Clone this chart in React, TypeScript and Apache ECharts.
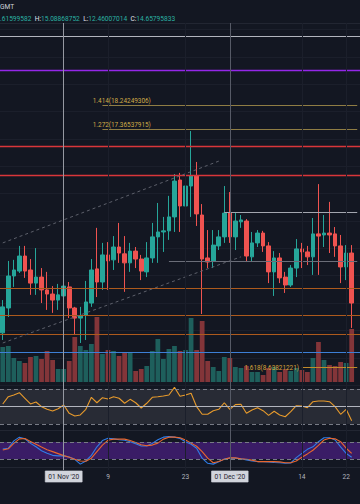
import React, { useEffect, useRef } from "react";
import * as echarts from "echarts";

// ---------- categories (daily, 21 Oct 2020 .. 24 Dec 2020) ----------
const MONTHS = ["Jan", "Feb", "Mar", "Apr", "May", "Jun", "Jul", "Aug", "Sep", "Oct", "Nov", "Dec"];
const dates: string[] = [];
for (let i = 0; i < 65; i++) {
  const d = new Date(Date.UTC(2020, 9, 21) + i * 86400000);
  dates.push(`${MONTHS[d.getUTCMonth()]} ${d.getUTCDate()}`);
}

// ---------- candles [open, close, low, high] ----------
const candles: number[][] = [
  [9.91, 10.86, 9.65, 11.11], [10.82, 11.99, 10.49, 12.54], [11.99, 12.21, 11.59, 12.58],
  [12.17, 12.72, 12.1, 13.09], [12.72, 12.17, 11.92, 13.09], [12.21, 11.73, 11.3, 12.61],
  [11.73, 11.95, 11.3, 13.01], [11.95, 11.48, 11.0, 12.28], [11.48, 11.33, 10.75, 12.14],
  [11.33, 11.11, 10.64, 11.62], [11.11, 11.3, 10.75, 11.7],
  [11.26, 11.62, 11.22, 11.66], [11.59, 10.82, 10.45, 11.77], [10.82, 10.45, 9.83, 10.86],
  [10.45, 10.53, 9.54, 10.86], [10.56, 11.04, 9.65, 11.81], [11.0, 12.21, 10.86, 12.61],
  [12.25, 11.77, 11.22, 13.75], [11.77, 12.76, 11.48, 13.2], [12.76, 12.54, 11.48, 13.23],
  [12.58, 13.05, 12.21, 13.45], [13.05, 12.83, 12.47, 13.93], [12.8, 12.47, 11.41, 13.45],
  [12.47, 12.9, 12.14, 13.2], [12.9, 12.61, 12.28, 13.05], [12.61, 12.17, 11.84, 12.76],
  [12.14, 12.65, 11.95, 13.23], [12.65, 13.42, 12.47, 13.93], [13.42, 13.6, 12.47, 14.66],
  [13.6, 13.64, 12.87, 14.15], [13.64, 14.15, 13.31, 14.92], [14.15, 15.46, 13.6, 15.72],
  [15.5, 14.55, 13.6, 15.76], [14.55, 15.28, 14.15, 15.98], [15.28, 15.65, 14.15, 17.29],
  [15.65, 14.26, 13.82, 16.16], [14.22, 12.61, 10.6, 14.62], [12.65, 12.5, 12.28, 13.67],
  [12.54, 13.12, 12.28, 13.67], [13.09, 13.42, 12.94, 13.67], [13.42, 14.29, 13.2, 15.28],
  [14.29, 13.42, 13.2, 15.06], [13.42, 14.0, 12.94, 14.29], [13.97, 14.04, 13.75, 14.22],
  [14.0, 12.72, 12.5, 14.07], [12.69, 13.2, 12.5, 13.6], [13.2, 13.56, 13.05, 13.67],
  [13.56, 13.09, 12.87, 13.64], [13.09, 12.14, 11.73, 13.23], [12.14, 12.65, 11.26, 12.9],
  [12.65, 11.92, 11.73, 12.83], [11.95, 11.66, 11.37, 12.14], [11.66, 12.28, 11.59, 12.39],
  [12.28, 12.98, 11.95, 13.34], [12.98, 12.87, 12.28, 13.2], [12.87, 12.69, 12.39, 13.09],
  [12.69, 13.53, 12.03, 14.11], [13.53, 13.45, 12.03, 15.35], [13.49, 13.56, 13.05, 14.22],
  [13.56, 13.49, 12.83, 14.7], [13.53, 13.09, 12.69, 13.78], [13.09, 12.32, 11.73, 13.49],
  [12.32, 12.83, 11.84, 13.12], [12.83, 11.0, 10.09, 13.12],
];

// ---------- volume (K) ----------
const volumes = [
  350, 360, 240, 210, 190, 250, 260, 230, 310, 220, 130,
  130, 210, 450, 360, 320, 380, 650, 280, 320, 310, 260, 300, 300, 110, 130, 160, 310, 430, 230,
  330, 360, 310, 320, 640, 320, 610, 210, 150, 110, 250,
  240, 150, 140, 160, 100, 100, 70, 140, 150, 100, 130, 110, 140, 120, 100, 240, 400, 220, 170,
  160, 200, 190, 530,
];

// ---------- RSI ----------
const rsi = [
  52.9, 61.2, 63.1, 65.8, 59.4, 52.9, 55.1, 49.8, 46.8, 44.9, 47.5,
  51.7, 42.2, 39.1, 40.3, 46.8, 60.5, 54.3, 60.1, 58.6, 61.2, 59.4, 53.7, 58.2, 54.3, 48.3,
  53.7, 60.5, 61.2, 62.0, 63.1, 71.9, 61.7, 63.1, 65.1, 49.8, 41.1, 41.1, 45.2, 46.8, 54.3,
  46.8, 52.1, 52.5, 42.2, 46.0, 48.6, 45.2, 39.9, 44.5, 40.3, 38.3, 44.1, 50.9, 50.6, 48.6,
  55.5, 56.3, 56.3, 55.5, 49.8, 41.1, 46.8, 33.8,
];

// ---------- Stochastic RSI ----------
const stochK = [
  55, 58, 84, 97, 91, 75, 63, 49, 40, 33, 31,
  31, 27, 19, 2, 13, 33, 63, 85, 93, 91, 88, 86, 81, 74, 66, 66, 75, 88, 97, 99,
  97, 92, 81, 72, 58, 23, 5, 2, 10, 20,
  23, 23, 21, 17, 13, 11, 11, 10, 8, 7, 5, 6, 25, 40, 54, 63, 81, 95, 95, 87, 63, 40, 26,
];
const stochD = [
  52, 56, 75, 91, 92, 82, 72, 62, 53, 46, 39,
  32, 26, 19, 13, 12, 23, 46, 69, 86, 90, 90, 90, 85, 78, 70, 67, 69, 76, 90, 97,
  97, 95, 87, 76, 65, 46, 23, 7, 11, 19,
  24, 24, 21, 19, 16, 11, 11, 11, 11, 10, 7, 7, 13, 26, 38, 51, 68, 87, 93, 91, 81, 58, 40,
];

// ---------- drawn levels ----------
const topLevel = 20.77;
const purpleLevel = 19.52;
const fibRatios = ["1.414", "1.272", "1.618"];
const fibLevels = [18.24249306, 17.36537915, 8.63821221];
const fibStarts = ["Nov 8", "Nov 8", "Dec 14"];
const redLevels = [16.74, 15.68];
const grayLevels = [14.33, 12.54];
const grayStarts = ["Nov 30", "Nov 20"];
const orangeLevels = [11.55, 10.56, 9.87];
const blueLevel = 9.21;
const channelUpper: [string, number][] = [["Oct 21", 13.2], ["Nov 29", 16.19]];
const channelLower: [string, number][] = [["Oct 21", 9.54], ["Dec 3", 12.69]];
const lastCategory = "Dec 24";

// ---------- time axis ----------
const tickDates = ["Nov 1", "Nov 9", "Nov 23", "Dec 1", "Dec 14", "Dec 22"];
const tickTexts = ["01 Nov '20", "9", "23", "01 Dec '20", "14", "22"];
const boxedTicks = ["Nov 1", "Dec 1"];

const UP = "#26a69a";
const DOWN = "#ef5350";
const FONT = "Roboto";

export default function App() {
  const ref = useRef<HTMLDivElement>(null);

  useEffect(() => {
    if (!ref.current) return;
    const chart = echarts.init(ref.current, null, { renderer: "svg" });

    const gridX = { left: -3.2, width: 368.6 };
    const hidden = { show: false };
    const xAxisBase = (gridIndex: number) => ({
      type: "category",
      gridIndex,
      data: dates,
      boundaryGap: true,
      axisLine: hidden,
      axisTick: hidden,
      axisLabel: hidden,
      splitLine: hidden,
    });

    const hLine = (v: number, color: string, width = 1) => ({
      yAxis: v,
      lineStyle: { color, width, type: "solid" },
    });
    const seg = (from: string, v: number, color: string, width = 1) => [
      { coord: [from, v], lineStyle: { color, width, type: "solid" } },
      { coord: [lastCategory, v] },
    ];
    const dashSeg = (pts: [string, number][]) => [
      { coord: pts[0], lineStyle: { color: "#5d606b", width: 1, type: [3, 3] } },
      { coord: pts[1] },
    ];

    const option: any = {
      animation: false,
      backgroundColor: "#131722",
      grid: [
        { ...gridX, top: 29.6, height: 355.5 },
        { ...gridX, top: 300, height: 82 },
        { ...gridX, top: 380.25, height: 52.5 },
        { ...gridX, top: 436.3, height: 28.4 },
        { ...gridX, top: 23, height: 447 },
      ],
      xAxis: [
        xAxisBase(0),
        xAxisBase(1),
        xAxisBase(2),
        xAxisBase(3),
        {
          ...xAxisBase(4),
          axisLabel: {
            show: true,
            margin: 1,
            interval: (_i: number, value: string) => tickDates.includes(value),
            formatter: (value: string) => {
              const k = tickDates.indexOf(value);
              if (k < 0) return "";
              return boxedTicks.includes(value) ? `{b|${tickTexts[k]}}` : `{n|${tickTexts[k]}}`;
            },
            rich: {
              b: {
                backgroundColor: "#d1d4dc",
                borderColor: "#9598a1",
                borderWidth: 0.5,
                color: "#1e222d",
                padding: [2, 3, 2, 3],
                fontSize: 6.6,
                fontFamily: FONT,
              },
              n: { color: "#b2b5be", fontSize: 6.6, fontFamily: FONT, padding: [2, 0, 2, 0] },
            },
          },
        },
      ],
      yAxis: [
        {
          type: "value",
          gridIndex: 0,
          min: 8,
          max: 21,
          interval: 1,
          axisLine: hidden,
          axisTick: hidden,
          axisLabel: hidden,
          splitLine: { show: true, lineStyle: { color: "#1b1f2b", width: 1 } },
        },
        { type: "value", gridIndex: 1, min: 0, max: 820, show: false },
        { type: "value", gridIndex: 2, min: 20, max: 80, show: false },
        { type: "value", gridIndex: 3, min: 0, max: 100, show: false },
        { type: "value", gridIndex: 4, min: 0, max: 1, show: false },
      ],
      graphic: [
        { type: "line", silent: true, shape: { x1: 0, y1: 23.5, x2: 360, y2: 23.5 }, style: { stroke: "#222632", lineWidth: 1 } },
        { type: "line", silent: true, shape: { x1: 0, y1: 430.5, x2: 360, y2: 430.5 }, style: { stroke: "#222632", lineWidth: 1 } },
        { type: "line", silent: true, shape: { x1: 0, y1: 467.5, x2: 360, y2: 467.5 }, style: { stroke: "#222632", lineWidth: 1 } },
        {
          type: "text",
          left: 0,
          top: 3,
          silent: true,
          style: { text: "GMT", fill: "#d1d4dc", fontSize: 6.6, fontFamily: FONT },
        },
        {
          type: "text",
          left: 0,
          top: 12.5,
          silent: true,
          style: {
            text: "{t|.61599582} {w|H:}{t|15.08868752} {w|L:}{t|12.46007014} {w|C:}{t|14.65795833}",
            rich: {
              t: { fill: "#2bb1a3", fontSize: 6.6, fontFamily: FONT },
              w: { fill: "#e0e3eb", fontSize: 6.6, fontFamily: FONT },
            },
          },
        },
      ],
      series: [
        {
          type: "bar",
          name: "Volume",
          xAxisIndex: 1,
          yAxisIndex: 1,
          z: 1,
          barWidth: "86%",
          silent: true,
          data: volumes.map((v, i) => ({
            value: v,
            itemStyle: { color: candles[i][1] >= candles[i][0] ? "#1e5f5c" : "#833539" },
          })),
        },
        {
          type: "candlestick",
          name: "Price",
          xAxisIndex: 0,
          yAxisIndex: 0,
          z: 3,
          barWidth: "74%",
          silent: true,
          data: candles,
          itemStyle: { color: UP, color0: DOWN, borderColor: UP, borderColor0: DOWN, borderWidth: 1 },
          markLine: {
            symbol: ["none", "none"],
            silent: true,
            label: { show: false },
            data: [
              hLine(topLevel, "#b2b5be", 1),
              hLine(purpleLevel, "#9327e8", 1.4),
              ...redLevels.map((v) => hLine(v, "#d9363a", 1.3)),
              ...orangeLevels.map((v) => hLine(v, "#ad5a1d", 1.1)),
              hLine(blueLevel, "#3d7fd6", 1.2),
              seg(fibStarts[0], fibLevels[0], "#8f7d44", 1),
              seg(fibStarts[1], fibLevels[1], "#8f7d44", 1),
              seg(fibStarts[2], fibLevels[2], "#c08a2a", 1),
              seg(grayStarts[0], grayLevels[0], "#a3a6af", 1),
              seg(grayStarts[1], grayLevels[1], "#6a6d78", 1),
              dashSeg(channelUpper),
              dashSeg(channelLower),
            ],
          },
          markPoint: {
            symbol: "circle",
            symbolSize: 0.01,
            silent: true,
            itemStyle: { color: "rgba(0,0,0,0)" },
            data: fibLevels.map((v, i) => ({
              coord: [fibStarts[i], v],
              label: {
                show: true,
                formatter: `${fibRatios[i]}(${v})`,
                position: i < 2 ? "right" : "left",
                distance: 0,
                offset: i < 2 ? [-9.7, -3.6] : [-2.8, 0],
                color: i < 2 ? "#d1ac48" : "#d9a33a",
                fontSize: 6.4,
                fontFamily: FONT,
              },
            })),
          },
        },
        {
          type: "line",
          name: "RSI",
          xAxisIndex: 2,
          yAxisIndex: 2,
          z: 3,
          data: rsi,
          showSymbol: false,
          silent: true,
          lineStyle: { color: "#e89b2c", width: 1.1 },
          markArea: {
            silent: true,
            itemStyle: { color: "rgba(255,255,255,0.09)" },
            data: [[{ yAxis: 70 }, { yAxis: 30 }]],
          },
          markLine: {
            symbol: ["none", "none"],
            silent: true,
            label: { show: false },
            data: [
              { yAxis: 70, lineStyle: { color: "#787b86", width: 1, type: [4, 3] } },
              { yAxis: 30, lineStyle: { color: "#787b86", width: 1, type: [4, 3] } },
              { yAxis: 50, lineStyle: { color: "#b2b5be", width: 1, type: "solid" } },
            ],
          },
        },
        {
          type: "line",
          name: "K",
          xAxisIndex: 3,
          yAxisIndex: 3,
          z: 3,
          data: stochK,
          showSymbol: false,
          silent: true,
          lineStyle: { color: "#2f7de8", width: 1.1 },
          markArea: {
            silent: true,
            itemStyle: { color: "#3a1c66" },
            data: [[{ yAxis: 80 }, { yAxis: 20 }]],
          },
          markLine: {
            symbol: ["none", "none"],
            silent: true,
            label: { show: false },
            data: [
              { yAxis: 80, lineStyle: { color: "#787b86", width: 1, type: [4, 3] } },
              { yAxis: 20, lineStyle: { color: "#787b86", width: 1, type: [4, 3] } },
            ],
          },
        },
        {
          type: "line",
          name: "D",
          xAxisIndex: 3,
          yAxisIndex: 3,
          z: 4,
          data: stochD,
          showSymbol: false,
          silent: true,
          lineStyle: { color: "#e8662e", width: 1.1 },
        },
        {
          type: "line",
          name: "Crosshair",
          xAxisIndex: 4,
          yAxisIndex: 4,
          z: 2,
          data: dates.map(() => null),
          showSymbol: false,
          silent: true,
          markLine: {
            symbol: ["none", "none"],
            silent: true,
            label: { show: false },
            data: [
              ...tickDates
                .filter((d) => !boxedTicks.includes(d))
                .map((d) => ({ xAxis: d, lineStyle: { color: "#1b1f2b", width: 1, type: "solid" } })),
              { xAxis: boxedTicks[0], lineStyle: { color: "#9598a1", width: 1, type: "solid" } },
              { xAxis: boxedTicks[1], lineStyle: { color: "#565a66", width: 1, type: "solid" } },
            ],
          },
        },
      ],
    };

    chart.setOption(option);
    return () => chart.dispose();
  }, []);

  return (
    <div
      ref={ref}
      style={{ position: "fixed", left: 0, top: 0, width: 360, height: 504, background: "#131722" }}
    />
  );
}
